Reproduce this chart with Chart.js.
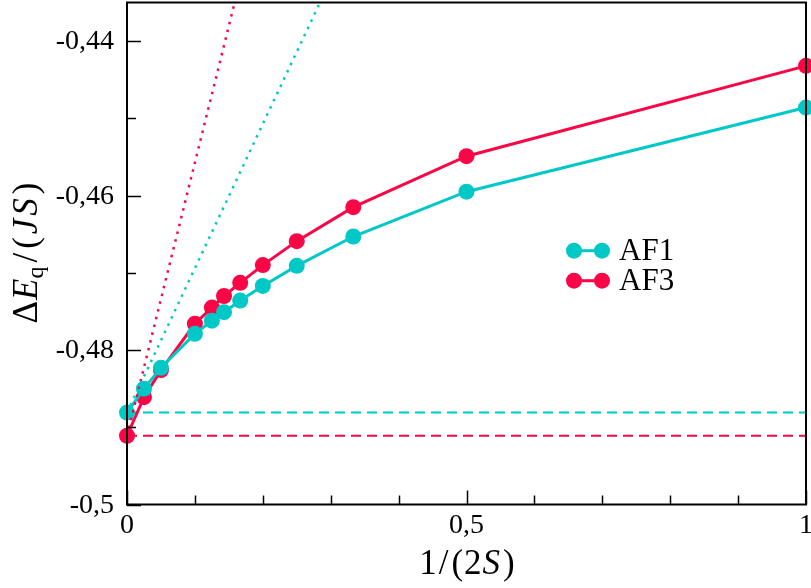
<!DOCTYPE html>
<html>
<head>
<meta charset="utf-8">
<script src="https://cdn.jsdelivr.net/npm/chart.js@4.4.1/dist/chart.umd.min.js"></script>
<style>
  body { margin: 0; background: #fff; }
  #chart { display: block; }
</style>
</head>
<body>
<canvas id="chart" width="811" height="588"></canvas>
<script>
// 1/(2S) values
const xVals = [0, 0.025, 0.05, 0.1, 0.125, 0.1429, 0.1667, 0.2, 0.25, 0.3333, 0.5, 1];
const af1 = [-0.4881, -0.4850, -0.4823, -0.4779, -0.4762, -0.4751, -0.4736, -0.4717, -0.4691, -0.4653, -0.4595, -0.4486];
const af3 = [-0.4911, -0.4861, -0.4826, -0.4766, -0.4745, -0.4730, -0.4713, -0.4690, -0.4659, -0.4615, -0.4549, -0.4432];

// extrapolation lines (end points)
const af1FitX = [0, 0.2842];
const af1FitY = [-0.4881, -0.435];
const af3FitX = [0, 0.1586];
const af3FitY = [-0.4911, -0.435];

// S -> infinity limits
const limitX = [0, 1];
const af1Limit = [-0.4881, -0.4881];
const af3Limit = [-0.4911, -0.4911];

const xTicks = [0, 0.1, 0.2, 0.3, 0.4, 0.5, 0.6, 0.7, 0.8, 0.9, 1];
const xLabels = { 0: "0", 0.5: "0,5", 1: "1" };
const yTicks = [-0.5, -0.49, -0.48, -0.47, -0.46, -0.45, -0.44];
const yLabels = { "-0.5": "-0,5", "-0.48": "-0,48", "-0.46": "-0,46", "-0.44": "-0,44" };

const cyan = "rgb(0,200,198)";
const red = "rgb(250,6,70)";
const FAM = '"Liberation Serif", "Times New Roman", serif';

function pts(xs, ys) {
  return xs.map((x, i) => ({ x: x, y: ys[i] }));
}

// draw pieces of text one after another, each with its own font
function drawRuns(ctx, runs, x, y) {
  let cx = x;
  runs.forEach((r) => {
    ctx.font = r.font;
    ctx.fillText(r.text, cx, y + (r.dy || 0));
    cx += ctx.measureText(r.text).width + (r.gap || 0);
  });
}
function runsWidth(ctx, runs) {
  let w = 0;
  runs.forEach((r) => {
    ctx.font = r.font;
    w += ctx.measureText(r.text).width + (r.gap || 0);
  });
  return w;
}

const frame = {
  id: "frame",
  afterDatasetsDraw(chart) {
    const ctx = chart.ctx;
    const a = chart.chartArea;
    const xs = chart.scales.x;
    const ys = chart.scales.y;
    ctx.save();
    ctx.strokeStyle = "#000";
    ctx.lineWidth = 2;
    ctx.strokeRect(a.left, a.top, a.right - a.left, a.bottom - a.top);

    // ticks, pointing inward
    ctx.lineWidth = 1.5;
    xTicks.forEach((v) => {
      const px = Math.round(xs.getPixelForValue(v)) + 0.5;
      const len = xLabels[v] !== undefined ? 14 : 9;
      ctx.beginPath();
      ctx.moveTo(px, a.bottom);
      ctx.lineTo(px, a.bottom - len);
      ctx.stroke();
    });
    yTicks.forEach((v) => {
      const py = Math.round(ys.getPixelForValue(v)) + 0.5;
      const len = yLabels[String(v)] !== undefined ? 14 : 9;
      ctx.beginPath();
      ctx.moveTo(a.left, py);
      ctx.lineTo(a.left + len, py);
      ctx.stroke();
    });

    // tick labels
    ctx.fillStyle = "#000";
    ctx.font = "28px " + FAM;
    ctx.textBaseline = "alphabetic";
    ctx.textAlign = "center";
    xTicks.forEach((v) => {
      if (xLabels[v] === undefined) return;
      ctx.fillText(xLabels[v], xs.getPixelForValue(v), 533);
    });
    ctx.textAlign = "right";
    ctx.textBaseline = "middle";
    yTicks.forEach((v) => {
      const t = yLabels[String(v)];
      if (t === undefined) return;
      ctx.fillText(t, a.left - 13, ys.getPixelForValue(v) + 1);
    });

    // x axis title
    ctx.textAlign = "left";
    ctx.textBaseline = "alphabetic";
    const up = "35px " + FAM;
    const it = "italic 35px " + FAM;
    const xRuns = [
      { text: "1", font: up, gap: 2 },
      { text: "/", font: up, gap: 3 },
      { text: "(", font: up, gap: 1 },
      { text: "2", font: up, gap: 1 },
      { text: "S", font: it, gap: 3 },
      { text: ")", font: up }
    ];
    const xw = runsWidth(ctx, xRuns);
    drawRuns(ctx, xRuns, 467 - xw / 2, 574);

    // y axis title, rotated
    const yRuns = [
      { text: "\u0394", font: "35px " + FAM, gap: 1 },
      { text: "E", font: "italic 35px " + FAM, gap: 0 },
      { text: "q", font: "24px " + FAM, dy: 6, gap: 4 },
      { text: "/", font: "35px " + FAM, gap: 4 },
      { text: "(", font: "35px " + FAM, gap: 3 },
      { text: "J", font: "italic 35px " + FAM, gap: 3 },
      { text: "S", font: "italic 35px " + FAM, gap: 4 },
      { text: ")", font: "35px " + FAM }
    ];
    const yw = runsWidth(ctx, yRuns);
    ctx.translate(37, 253);
    ctx.rotate(-Math.PI / 2);
    drawRuns(ctx, yRuns, -yw / 2, 0);
    ctx.restore();

    // legend
    ctx.save();
    const items = [
      { label: "AF1", color: cyan, y: 250.7, base: 260 },
      { label: "AF3", color: red, y: 280.7, base: 290 }
    ];
    items.forEach((item) => {
      ctx.strokeStyle = item.color;
      ctx.fillStyle = item.color;
      ctx.lineWidth = 3;
      ctx.beginPath();
      ctx.moveTo(574, item.y);
      ctx.lineTo(602, item.y);
      ctx.stroke();
      [574, 602].forEach((cx) => {
        ctx.beginPath();
        ctx.arc(cx, item.y, 8, 0, Math.PI * 2);
        ctx.fill();
      });
      ctx.fillStyle = "#000";
      ctx.font = "31px " + FAM;
      ctx.textAlign = "left";
      ctx.textBaseline = "alphabetic";
      ctx.fillText(item.label, 619, item.base);
    });
    ctx.restore();
  }
};

function build() {
  const ctx = document.getElementById("chart").getContext("2d");
  new Chart(ctx, {
    type: "line",
    data: {
      datasets: [
        {
          label: "AF1 fit",
          data: pts(af1FitX, af1FitY),
          borderColor: cyan,
          borderWidth: 2.5,
          borderDash: [2.5, 5.5],
          pointRadius: 0,
          order: 0
        },
        {
          label: "AF3 fit",
          data: pts(af3FitX, af3FitY),
          borderColor: red,
          borderWidth: 2.5,
          borderDash: [2.5, 5.5],
          pointRadius: 0,
          order: 1
        },
        {
          label: "AF1",
          data: pts(xVals, af1),
          borderColor: cyan,
          backgroundColor: cyan,
          borderWidth: 3,
          pointRadius: 8,
          pointBorderWidth: 0,
          clip: false,
          order: 2
        },
        {
          label: "AF3",
          data: pts(xVals, af3),
          borderColor: red,
          backgroundColor: red,
          borderWidth: 3,
          pointRadius: 8,
          pointBorderWidth: 0,
          clip: false,
          order: 3
        },
        {
          label: "AF1 limit",
          data: pts(limitX, af1Limit),
          borderColor: cyan,
          borderWidth: 2,
          borderDash: [10, 6],
          pointRadius: 0,
          order: 4
        },
        {
          label: "AF3 limit",
          data: pts(limitX, af3Limit),
          borderColor: red,
          borderWidth: 2,
          borderDash: [10, 6],
          pointRadius: 0,
          order: 5
        }
      ]
    },
    options: {
      responsive: false,
      animation: false,
      layout: {
        autoPadding: false,
        padding: { left: 127, top: 2.5, right: 5, bottom: 83.5 }
      },
      scales: {
        x: { type: "linear", min: 0, max: 1, display: false },
        y: { type: "linear", min: -0.5, max: -0.435, display: false }
      },
      plugins: {
        legend: { display: false },
        tooltip: { enabled: false }
      }
    },
    plugins: [frame]
  });
}

Promise.all([
  document.fonts.load('28px "Liberation Serif"'),
  document.fonts.load('italic 35px "Liberation Serif"')
]).then(build, build);
</script>
</body>
</html>
